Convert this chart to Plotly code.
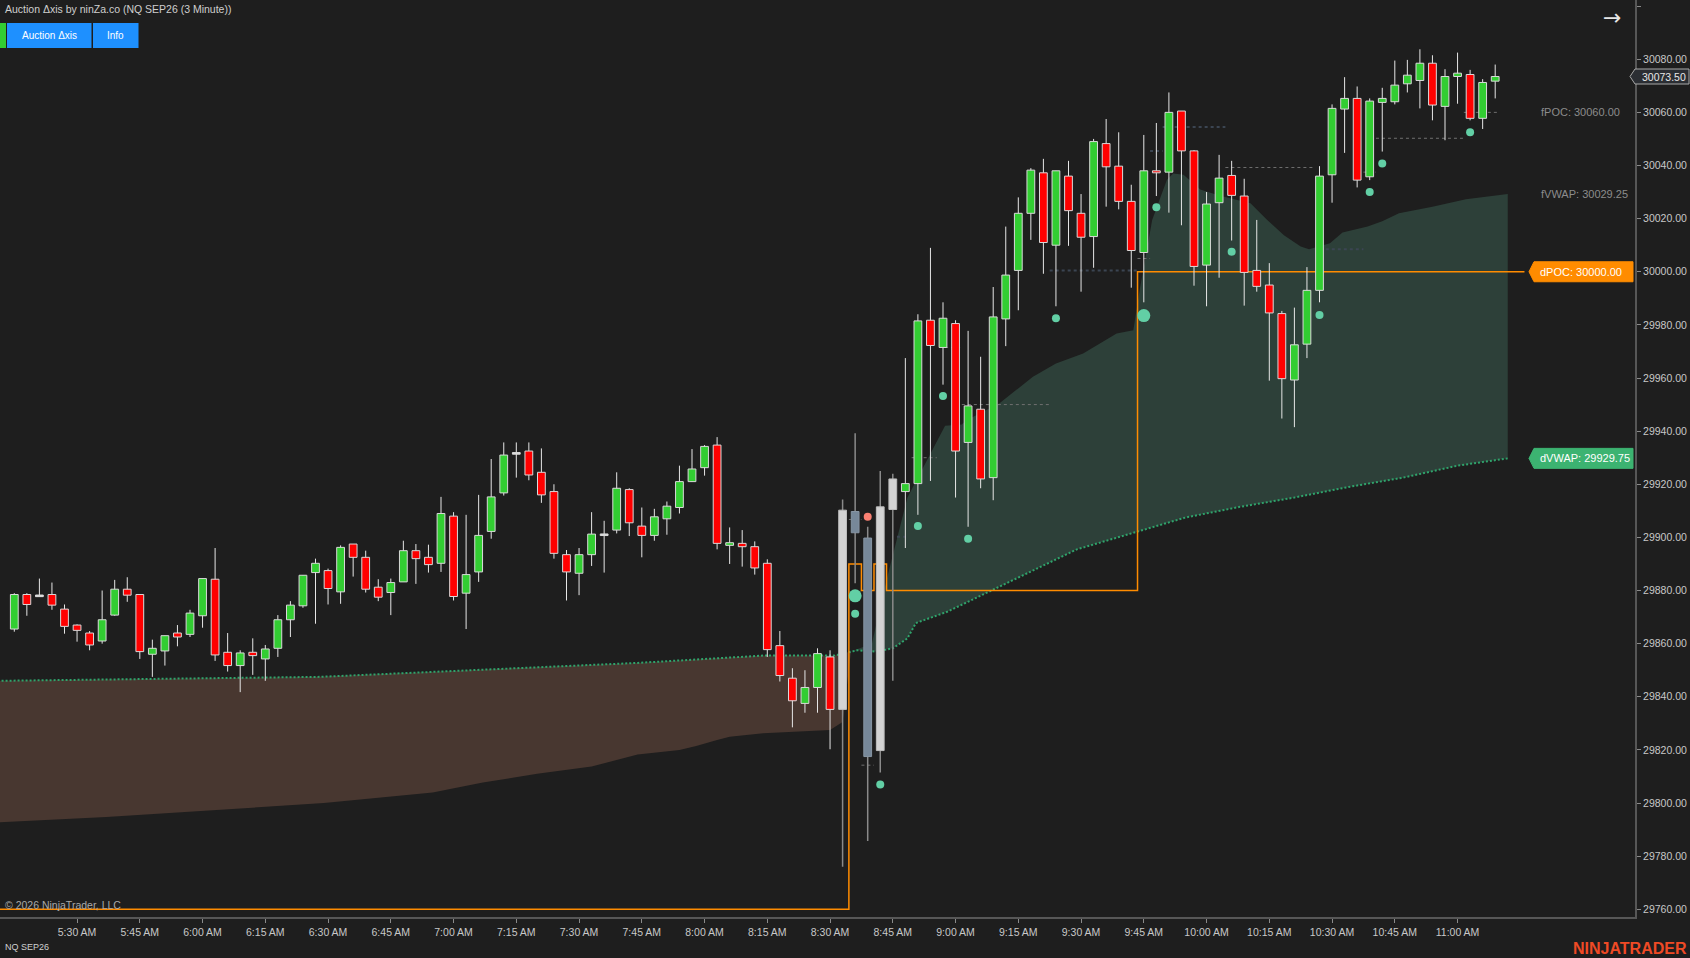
import plotly.graph_objects as go
import pandas as pd

# ---------------- data ----------------
session_date = "2026-06-15"
bar_start = "05:15"
bar_minutes = 3

opens = [29865.5, 29878.5, 29878, 29878.5, 29873, 29867, 29864, 29861, 29870.75, 29880.5,
         29878.5, 29856, 29857.25, 29864, 29863.5, 29870.5, 29884.25, 29856.75, 29851.75, 29856.75,
         29854.25, 29858.25, 29869, 29874.25, 29886.75, 29887.5, 29879.5, 29897.5, 29892.5, 29881.25,
         29879.25, 29883.25, 29895, 29892.5, 29890.25, 29908, 29879, 29887, 29902.25, 29916.75,
         29931.5, 29932.5, 29924.5, 29917.25, 29893.5, 29886.5, 29893.5, 29901, 29902.75, 29918,
         29904.25, 29900.75, 29907, 29911.25, 29921, 29926.25, 29934.75, 29897, 29897.75, 29896.5,
         29890.25, 29859.25, 29847, 29837.5, 29843.5, 29855, 29835.25, 29909.75, 29899.75, 29819.75,
         29910.5, 29917.25, 29920.25, 29981.75, 29971.5, 29980.5, 29935.75, 29948.25, 29922.5, 29982.25,
         30000.5, 30022, 30037.25, 30010, 30036, 30022, 30013.25, 30048.25, 30039.75, 30026.5,
         30007.25, 30038, 30037.5, 30060.5, 30045.5, 30002.5, 30026, 30036.25, 30028.5, 30000.5,
         29995, 29984.25, 29959.25, 29972.75, 29993, 30036.5, 30061.25, 30065.25, 30035.75, 30063.75,
         30064, 30070.75, 30072, 30078.5, 30062.25, 30073.5, 30074.25, 30057.75, 30071.75]
highs = [29879, 29879, 29884.5, 29883, 29874.75, 29867.25, 29864.75, 29880, 29884, 29885,
         29878.5, 29861.5, 29863, 29867, 29872.75, 29884.5, 29896, 29864, 29857.5, 29862,
         29859.5, 29870.75, 29876, 29885.75, 29892, 29888.25, 29897, 29897.5, 29895, 29884.25,
         29884.5, 29898.75, 29897.5, 29897.25, 29915.25, 29909.5, 29908.5, 29916, 29929.5, 29935.75,
         29935.75, 29935.75, 29933.5, 29920, 29895.25, 29896, 29909.5, 29906.25, 29924.5, 29918.5,
         29911.25, 29910.75, 29913.5, 29927, 29933.25, 29934.75, 29937.75, 29903.75, 29902.75, 29898.5,
         29891.75, 29864.75, 29850.75, 29850, 29858.25, 29857.5, 29914.25, 29939.25, 29904, 29925,
         29924, 29967.5, 29984, 30009, 29988.5, 29981.75, 29977.75, 29968, 29994.25, 30017,
         30028, 30039, 30042.5, 30038, 30041.75, 30029.25, 30050, 30057.5, 30052.5, 30032.75,
         30051.5, 30056, 30067.5, 30060.5, 30045.75, 30030, 30044, 30041.75, 30035, 30019.5,
         30003.25, 29985.25, 29986.5, 30001.75, 30039.75, 30063, 30073.25, 30069.75, 30065.25, 30069.25,
         30079.5, 30079.75, 30083.75, 30081.5, 30076.25, 30082.5, 30076, 30072.5, 30078]
lows = [29864.5, 29870.5, 29877.75, 29872.75, 29863.75, 29860.75, 29857.5, 29860, 29870.5, 29875.75,
        29854.25, 29847.5, 29851.75, 29859, 29862.5, 29866, 29853.5, 29849.5, 29841.75, 29848.25,
        29846, 29855, 29862.5, 29873.5, 29867.5, 29874.75, 29875, 29885.25, 29879.25, 29876,
        29870.75, 29883.25, 29882.5, 29886.75, 29887, 29876.25, 29865.5, 29883.25, 29899.5, 29915.75,
        29922.5, 29921.5, 29913, 29892, 29876.25, 29878.25, 29889.25, 29886.75, 29901.5, 29900.5,
        29892.5, 29898.75, 29901, 29909, 29921, 29923.25, 29895.5, 29890, 29889, 29886,
        29855, 29845.75, 29828.5, 29834, 29834, 29820.25, 29776, 29882.75, 29785.75, 29811.5,
        29846, 29896, 29908.5, 29921.25, 29957.5, 29915, 29904, 29918.5, 29914, 29972,
        29985.5, 30012, 29999.25, 29987, 30009.75, 29992.5, 30001.5, 30024.5, 30023.5, 29994,
        29988.5, 30028.5, 30022.25, 30017.5, 29994.75, 29987, 29997.75, 30011.75, 29987.25, 29992.5,
        29959, 29944.75, 29941.5, 29967.5, 29988.5, 30026, 30044.75, 30031.75, 30034.5, 30045.25,
        30063, 30067.5, 30061.5, 30057, 30049.5, 30063.25, 30057, 30053.75, 30065.25]
closes = [29878.5, 29874.75, 29878, 29874.5, 29866.5, 29865, 29859.5, 29869, 29880.5, 29878.25,
          29857, 29858.25, 29863, 29862.5, 29871.5, 29884.5, 29855.75, 29851.75, 29856.5, 29855.5,
          29858, 29869, 29874.5, 29885.75, 29890.25, 29880.75, 29896.25, 29892.5, 29880.5, 29877.5,
          29883, 29895, 29892, 29889.75, 29909, 29877.75, 29886, 29900.75, 29915.25, 29931,
          29931.75, 29923.5, 29916, 29894, 29887, 29893.5, 29901.25, 29901, 29918.5, 29905.5,
          29900.75, 29907.75, 29911.75, 29921, 29925.75, 29934.25, 29897.75, 29898, 29896.5, 29888.5,
          29857.75, 29848, 29838.5, 29843.5, 29856.25, 29835.25, 29910.25, 29901.75, 29817.5, 29911.5,
          29922, 29920.25, 29981.5, 29972.25, 29982.5, 29932.5, 29949.5, 29922, 29983, 29998.75,
          30022, 30038.25, 30011, 30038, 30023, 30013, 30049, 30039.5, 30026.5, 30008,
          30038, 30037.25, 30060, 30045.5, 30002, 30025.5, 30035.25, 30028.75, 29999.75, 29994.5,
          29984.5, 29959.75, 29972.5, 29993, 30036, 30061.5, 30065.25, 30034.5, 30064.25, 30065.25,
          30070.25, 30074, 30078.5, 30062.75, 30073.5, 30074.75, 30057.75, 30071.25, 30073.5]

auction_bars = ["08:33", "08:36", "08:39", "08:42", "08:45"]

tick_times = ["05:30", "05:45", "06:00", "06:15", "06:30", "06:45", "07:00", "07:15", "07:30",
              "07:45", "08:00", "08:15", "08:30", "08:45", "09:00", "09:15", "09:30", "09:45",
              "10:00", "10:15", "10:30", "10:45", "11:00"]
tick_labels = ["5:30 AM", "5:45 AM", "6:00 AM", "6:15 AM", "6:30 AM", "6:45 AM", "7:00 AM",
               "7:15 AM", "7:30 AM", "7:45 AM", "8:00 AM", "8:15 AM", "8:30 AM", "8:45 AM",
               "9:00 AM", "9:15 AM", "9:30 AM", "9:45 AM", "10:00 AM", "10:15 AM", "10:30 AM",
               "10:45 AM", "11:00 AM"]
price_ticks = [29760, 29780, 29800, 29820, 29840, 29860, 29880, 29900, 29920, 29940, 29960,
               29980, 30000, 30020, 30040, 30060, 30080, 30100]

dvwap_times = ["05:11", "06:28", "07:44", "08:14", "08:31", "08:35", "08:36:30", "08:41", "08:45",
               "08:48:30", "08:50:30", "08:58", "09:08:30", "09:19", "09:29", "09:42", "09:55",
               "10:08", "10:21", "10:34", "10:47", "11:00", "11:12"]
dvwap_values = [29846, 29847.5, 29852.75, 29855.5, 29855.5, 29857, 29857.5, 29857, 29858.25,
                29862, 29867.75, 29872, 29880, 29888, 29895.5, 29901.5, 29907.5,
                29911.5, 29915, 29919, 29922.5, 29927, 29929.75]
fvwap_times = ["05:11", "05:37", "06:03", "06:29", "06:55", "07:07", "07:20", "07:33", "07:44",
               "07:54", "07:58", "08:03", "08:06", "08:14", "08:30", "08:33", "08:35", "08:40",
               "08:43:30", "08:46", "08:48:30", "08:57:30", "09:01:30", "09:02:30", "09:10:30",
               "09:18:30", "09:24", "09:30:30", "09:34:30", "09:38:30", "09:42:30", "09:44",
               "09:47", "09:50:30", "09:52", "09:54:30", "09:58:30", "10:03", "10:10:30",
               "10:14:30", "10:18:30", "10:22:30", "10:24:30", "10:29:30", "10:32:30", "10:38:30",
               "10:42", "10:46", "10:54", "11:02", "11:08:30", "11:12"]
fvwap_values = [29792.75, 29794.75, 29797.25, 29800, 29804, 29807.75, 29811, 29813.75, 29818.25,
                29820, 29821.5, 29823.75, 29825, 29826.25, 29827.5, 29830.5, 29857, 29860,
                29884, 29900, 29915, 29942, 29942.5, 29944, 29950.5,
                29960.5, 29965.5, 29969.25, 29973, 29976.75, 29978, 29993,
                30019.5, 30034.5, 30037, 30036.5, 30031, 30028.75, 30025.75,
                30019.5, 30013.75, 30009.5, 30008.5, 30010.75, 30014.75, 30017,
                30019, 30022, 30024.5, 30027.25, 30028.5, 30029.25]
band_cross = "08:35"

dpoc_times = ["05:10", "08:34:30", "08:37:30", "08:40:30", "08:43:30", "09:43:30", "11:16"]
dpoc_values = [29760, 29890, 29880, 29890, 29880, 30000, 30000]
fpoc_value = 30060.00

poc_grey_start = ["08:34:30", "08:37:30", "08:49:30", "08:57:30", "09:01:30", "09:43:30",
                  "10:04:30", "10:37:30", "10:40:30", "11:01:30"]
poc_grey_end = ["08:37:30", "08:40:30", "08:55:30", "09:01:30", "09:22:30", "09:46:30",
                "10:25:30", "10:40:30", "11:01:30", "11:09:30"]
poc_grey_price = [29906.75, 29814.25, 29930, 29971.5, 29950, 30005,
                  30039.25, 30037.5, 30050.25, 30060]
poc_dark_start = ["08:46", "09:22:30", "09:46:30", "09:49:30", "10:28:30"]
poc_dark_end = ["08:48:30", "09:43:30", "09:49:30", "10:04:30", "10:37:30"]
poc_dark_price = [29900.25, 30000.5, 30045.5, 30054.5, 30008.5]

dot_small_times = ["08:36", "08:42", "08:51", "08:57", "09:03", "09:24", "09:48", "10:06",
                   "10:27", "10:39", "10:42", "11:03"]
dot_small_values = [29871.25, 29807, 29904.25, 29953.25, 29899.5, 29982.5, 30024.25, 30007.5,
                    29983.75, 30030, 30040.75, 30052.5]
dot_big_times = ["08:36", "09:45"]
dot_big_values = [29878, 29983.5]
dot_salmon_times = ["08:39"]
dot_salmon_values = [29907.75]

# ---------------- geometry helpers ----------------
W, H = 1690, 958
ML, MR, MT, MB = 0, 55, 0, 41
PW, PH = W - ML - MR, H - MT - MB
Y_MIN, Y_MAX = 29757.1, 30102.3
BAR_PX = 12.55
FIRST_BAR_PX = 14.3


def T(s):
    return pd.Timestamp(f"{session_date} {s}")


t0 = T(bar_start)
times = [t0 + pd.Timedelta(minutes=bar_minutes * i) for i in range(len(opens))]
bar_ms = bar_minutes * 60000
x_start = t0 + pd.Timedelta(milliseconds=(-FIRST_BAR_PX / BAR_PX) * bar_ms)
x_end = t0 + pd.Timedelta(milliseconds=((PW - FIRST_BAR_PX) / BAR_PX) * bar_ms)


def px(xp):
    return xp / PW


def py(yp):
    return 1 - yp / PH


def pp(price):
    return (price - Y_MIN) / (Y_MAX - Y_MIN)


FONT = "Liberation Sans, Arial, sans-serif"
BG = "#1e1e1e"

fig = go.Figure()

# ---------------- VWAP band ----------------
cross = T(band_cross)
d_t = [T(s) for s in dvwap_times]
f_t = [T(s) for s in fvwap_times]
for before, color in [(True, "rgb(72,55,48)"), (False, "rgb(45,64,57)")]:
    d = [(t, v) for t, v in zip(d_t, dvwap_values) if (t <= cross if before else t >= cross)]
    f = [(t, v) for t, v in zip(f_t, fvwap_values) if (t <= cross if before else t >= cross)]
    xs = [p[0] for p in d] + [p[0] for p in reversed(f)]
    ys = [p[1] for p in d] + [p[1] for p in reversed(f)]
    fig.add_trace(go.Scatter(x=xs, y=ys, mode="lines", fill="toself", fillcolor=color,
                             line=dict(width=0), hoverinfo="skip", showlegend=False))

fig.add_trace(go.Scatter(x=d_t, y=dvwap_values, mode="lines",
                         line=dict(color="#2fa36b", width=2, dash="2px,2px"),
                         hoverinfo="skip", showlegend=False))


# ---------------- naked POC segments ----------------
def segs(starts, ends, prices):
    xs, ys = [], []
    for a, b, p in zip(starts, ends, prices):
        xs += [T(a), T(b), None]
        ys += [p, p, None]
    return xs, ys


gx, gy = segs(poc_grey_start, poc_grey_end, poc_grey_price)
fig.add_trace(go.Scatter(x=gx, y=gy, mode="lines", line=dict(color="#6f6f6f", width=1, dash="3px,3px"),
                         hoverinfo="skip", showlegend=False))
dx, dy = segs(poc_dark_start, poc_dark_end, poc_dark_price)
fig.add_trace(go.Scatter(x=dx, y=dy, mode="lines", line=dict(color="#3b4552", width=2, dash="3px,3px"),
                         hoverinfo="skip", showlegend=False))

# ---------------- dPOC step line ----------------
fig.add_trace(go.Scatter(x=[T(s) for s in dpoc_times], y=dpoc_values, mode="lines",
                         line=dict(color="#ff8c00", width=1.5, shape="hv"),
                         hoverinfo="skip", showlegend=False))

# ---------------- candles ----------------
auction_set = {T(s) for s in auction_bars}
half = pd.Timedelta(milliseconds=0.31 * bar_ms)
groups = {
    "up": dict(fill="#32cd32", line="#d9d9d9", wick="#e6e6e6"),
    "down": dict(fill="#ff0000", line="#d9d9d9", wick="#e6e6e6"),
    "doji": dict(fill="#dcdcdc", line="#dcdcdc", wick="#e6e6e6"),
    "a_up": dict(fill="#d3d3d3", line="#bdbdbd", wick="#8a8a8a"),
    "a_down": dict(fill="#778899", line="#8795a3", wick="#8a8a8a"),
}
bodies = {k: ([], []) for k in groups}
wicks = {"#e6e6e6": ([], []), "#8a8a8a": ([], [])}
for t, o, h, l, c in zip(times, opens, highs, lows, closes):
    if t in auction_set:
        g = "a_up" if c >= o else "a_down"
    elif abs(c - o) < 0.3:
        g = "doji"
    else:
        g = "up" if c > o else "down"
    wxs, wys = wicks[groups[g]["wick"]]
    wxs += [t, t, None]
    wys += [l, h, None]
    lo, hi = min(o, c), max(o, c)
    if hi - lo < 0.6:
        mid = (hi + lo) / 2
        lo, hi = mid - 0.3, mid + 0.3
    bx, by = bodies[g]
    bx += [t - half, t + half, t + half, t - half, t - half, None]
    by += [lo, lo, hi, hi, lo, None]

for color, (xs, ys) in wicks.items():
    fig.add_trace(go.Scatter(x=xs, y=ys, mode="lines",
                             line=dict(color=color, width=1.5 if color == "#8a8a8a" else 1),
                             hoverinfo="skip", showlegend=False))
for g, (xs, ys) in bodies.items():
    if not xs:
        continue
    fig.add_trace(go.Scatter(x=xs, y=ys, mode="lines", fill="toself", fillcolor=groups[g]["fill"],
                             line=dict(color=groups[g]["line"], width=1),
                             hoverinfo="skip", showlegend=False))

# ---------------- swing dots ----------------
fig.add_trace(go.Scatter(x=[T(s) for s in dot_small_times], y=dot_small_values, mode="markers",
                         marker=dict(color="#62cfa5", size=8, line=dict(width=0)),
                         hoverinfo="skip", showlegend=False))
fig.add_trace(go.Scatter(x=[T(s) for s in dot_big_times], y=dot_big_values, mode="markers",
                         marker=dict(color="#62cfa5", size=13, line=dict(width=0)),
                         hoverinfo="skip", showlegend=False))
fig.add_trace(go.Scatter(x=[T(s) for s in dot_salmon_times], y=dot_salmon_values, mode="markers",
                         marker=dict(color="#fa8072", size=8, line=dict(width=0)),
                         hoverinfo="skip", showlegend=False))

# ---------------- shapes & labels ----------------
shapes = []
annotations = []


def badge(price, fill, line_color, xl, xb, xr, half_px):
    yc = pp(price)
    hh = half_px / PH
    path = (f"M {px(xl)},{yc} L {px(xb)},{yc + hh} L {px(xr)},{yc + hh} "
            f"L {px(xr)},{yc - hh} L {px(xb)},{yc - hh} Z")
    shapes.append(dict(type="path", xref="paper", yref="paper", path=path,
                       fillcolor=fill, line=dict(color=line_color, width=1), layer="above"))


def text(xp, y, s, size, color, xanchor="left", bold=False, family=FONT):
    annotations.append(dict(x=px(xp), y=y, xref="paper", yref="paper",
                            text=f"<b>{s}</b>" if bold else s,
                            showarrow=False, xanchor=xanchor, yanchor="middle",
                            font=dict(size=size, color=color, family=family)))


dpoc_last = dpoc_values[-1]
dvwap_last = dvwap_values[-1]
fvwap_last = fvwap_values[-1]
last_price = closes[-1]

badge(dpoc_last, "#ff8c00", "#ff8c00", 1529, 1534, 1633, 10)
text(1538, pp(dpoc_last), f"dPOC: {dpoc_last:.2f}", 11, "#ffffff")
badge(dvwap_last, "#3cb371", "#3cb371", 1529, 1534, 1633, 10)
text(1538, pp(dvwap_last), f"dVWAP: {dvwap_last:.2f}", 11, "#ffffff")
text(1539, pp(fpoc_value), f"fPOC: {fpoc_value:.2f}", 11, "#8c8c8c")
text(1539, pp(fvwap_last), f"fVWAP: {fvwap_last:.2f}", 11, "#8c8c8c")
badge(last_price, "#2b2e33", "#a8a8a8", 1630, 1635, 1689, 7.5)
text(1640, pp(last_price), f"{last_price:.2f}", 10.5, "#e8e8e8")

# header
shapes.append(dict(type="rect", xref="paper", yref="paper", x0=px(0), x1=px(6), y0=py(48), y1=py(23),
                   fillcolor="#32cd32", line=dict(width=0)))
shapes.append(dict(type="rect", xref="paper", yref="paper", x0=px(7), x1=px(91.5), y0=py(48), y1=py(23),
                   fillcolor="#1e90ff", line=dict(width=0)))
shapes.append(dict(type="rect", xref="paper", yref="paper", x0=px(93), x1=px(138.5), y0=py(48), y1=py(23),
                   fillcolor="#1e90ff", line=dict(width=0)))
text(3, py(9), "Auction \u0394xis by ninZa.co (NQ SEP26 (3 Minute))", 10.5, "#cfcfcf")
text(49.3, py(35.5), "Auction \u0394xis", 10, "#ffffff", xanchor="center")
text(115.7, py(35.5), "Info", 10, "#ffffff", xanchor="center")
text(1612, py(18), "\u2192", 22, "#e6e6e6", xanchor="center", family="DejaVu Sans, sans-serif")

# footer
text(3, py(905), "\u00a9 2026 NinjaTrader, LLC", 10.5, "#a9a9a9")
text(3, py(947), "NQ SEP26", 9, "#d0d0d0")
text(1689, py(948), "NINJATRADER", 16, "#ef4a25", xanchor="right", bold=True,
     family="Liberation Sans Narrow, Liberation Sans, Arial, sans-serif")

fig.update_layout(
    width=W, height=H, autosize=False,
    margin=dict(l=ML, r=MR, t=MT, b=MB, pad=0),
    paper_bgcolor=BG, plot_bgcolor=BG,
    showlegend=False, hovermode=False,
    shapes=shapes, annotations=annotations,
    xaxis=dict(type="date", range=[x_start, x_end], showgrid=False, zeroline=False,
               showline=True, linecolor="#575757", linewidth=2,
               ticks="outside", ticklen=4, tickwidth=1, tickcolor="#8a8a8a",
               tickvals=[T(s) for s in tick_times], ticktext=tick_labels,
               tickfont=dict(size=10.5, color="#c8c8c8", family=FONT), fixedrange=True),
    yaxis=dict(side="right", range=[Y_MIN, Y_MAX], showgrid=False, zeroline=False,
               showline=True, linecolor="#575757", linewidth=2,
               ticks="outside", ticklen=4, tickwidth=1, tickcolor="#8a8a8a",
               tickvals=price_ticks,
               ticktext=[f"{v:.2f}" if v < Y_MAX - 5 else "" for v in price_ticks],
               tickfont=dict(size=10.5, color="#c8c8c8", family=FONT), fixedrange=True),
)

fig.write_html("out.html", config={"displayModeBar": False},
               post_script="document.body.style.margin='0';document.body.style.overflow='hidden';"
                           "document.body.style.background='#1e1e1e';")
